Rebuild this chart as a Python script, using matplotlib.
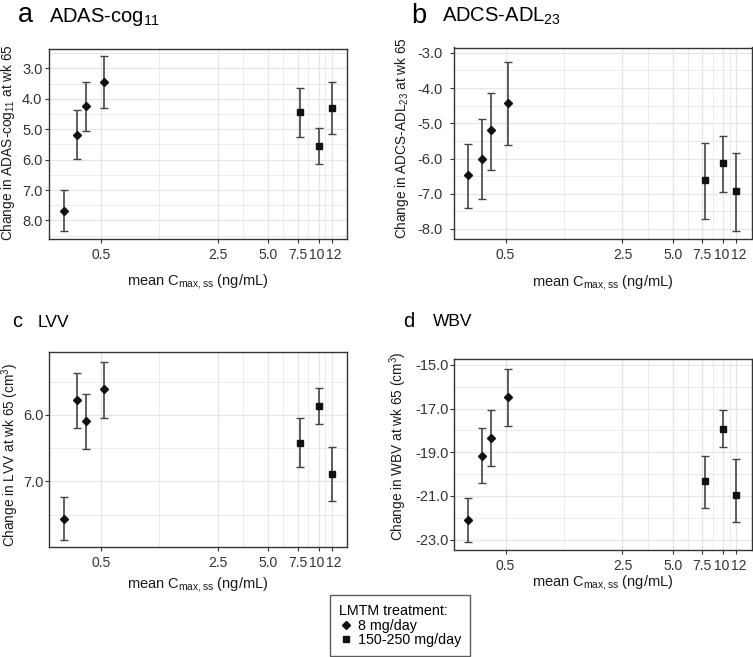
import numpy as np
import matplotlib
matplotlib.use("Agg")
import matplotlib.pyplot as plt
from matplotlib.ticker import FixedLocator, FixedFormatter, FormatStrFormatter, NullFormatter, MultipleLocator
from matplotlib.transforms import ScaledTranslation
from matplotlib.lines import Line2D

plt.rcParams['font.family'] = ['Liberation Sans', 'DejaVu Sans']
plt.rcParams['mathtext.fontset'] = 'custom'
plt.rcParams['mathtext.rm'] = 'Liberation Sans'
plt.rcParams['mathtext.it'] = 'Liberation Sans:italic'
plt.rcParams['mathtext.bf'] = 'Liberation Sans:bold'

# ---------------- data ----------------
x_low = [0.30, 0.36, 0.41, 0.52]     # 8 mg/day
x_high = [7.8, 10.0, 12.0]           # 150-250 mg/day
x_ticks = [0.5, 2.5, 5.0, 7.5, 10, 12]
x_ticklabels = ["0.5", "2.5", "5.0", "7.5", "10", "12"]

adas_low = [7.68, 5.20, 4.25, 3.46]
adas_low_lo = [7.00, 4.38, 3.44, 2.60]
adas_low_hi = [8.34, 5.99, 5.06, 4.30]
adas_high = [4.42, 5.54, 4.30]
adas_high_lo = [3.63, 4.97, 3.46]
adas_high_hi = [5.24, 6.13, 5.16]
adas_yticks = [3.0, 4.0, 5.0, 6.0, 7.0, 8.0]

adl_low = [-6.48, -6.01, -5.20, -4.43]
adl_low_lo = [-7.40, -7.15, -6.34, -5.63]
adl_low_hi = [-5.59, -4.87, -4.13, -3.27]
adl_high = [-6.61, -6.14, -6.92]
adl_high_lo = [-7.72, -6.94, -8.05]
adl_high_hi = [-5.57, -5.36, -5.83]
adl_yticks = [-3.0, -4.0, -5.0, -6.0, -7.0, -8.0]

lvv_low = [7.57, 5.78, 6.09, 5.61]
lvv_low_lo = [7.24, 5.37, 5.68, 5.20]
lvv_low_hi = [7.88, 6.19, 6.51, 6.04]
lvv_high = [6.42, 5.87, 6.89]
lvv_high_lo = [6.05, 5.59, 6.49]
lvv_high_hi = [6.79, 6.14, 7.29]
lvv_yticks = [6.0, 7.0]

wbv_low = [-22.12, -19.18, -18.34, -16.49]
wbv_low_lo = [-23.11, -20.41, -19.63, -17.82]
wbv_low_hi = [-21.11, -17.91, -17.07, -15.18]
wbv_high = [-20.33, -17.92, -20.95]
wbv_high_lo = [-21.56, -18.77, -22.18]
wbv_high_hi = [-19.15, -17.08, -19.29]
wbv_yticks = [-15.0, -17.0, -19.0, -21.0, -23.0]

legend_title = "LMTM treatment:"
legend_labels = ["8 mg/day", "150-250 mg/day"]

# ---------------- figure ----------------
W, H = 753, 657
fig = plt.figure(figsize=(W / 100, H / 100), dpi=100)

GRID = '#E6E6E6'
EBC = '#444444'
TXT = '#333333'


def px_axes(l, t, r, b):
    return fig.add_axes([l / W, 1 - b / H, (r - l) / W, (b - t) / H])


panels = [
    dict(pos=(49, 49.3, 347, 239.3), ylim=(8.62, 2.37), yt=adas_yticks, minor=0.5,
         low=(adas_low, adas_low_lo, adas_low_hi), high=(adas_high, adas_high_lo, adas_high_hi),
         ylabel=r'Change in ADAS-cog$\mathregular{_{11}}$ at wk 65', ylx=8.0, yly=142.5, xlc=-0.170, ypad=1.7,
         letter='a', title=r'ADAS-cog$\mathregular{_{11}}$', lx=18, tx=49, lb=21.7, tb=21.7, lfs=19.5, tfs=14.5),
    dict(pos=(453.7, 47.5, 751.7, 238.5), ylim=(-8.27, -2.85), yt=adl_yticks, minor=0.5,
         low=(adl_low, adl_low_lo, adl_low_hi), high=(adl_high, adl_high_lo, adl_high_hi),
         ylabel=r'Change in ADCS-ADL$\mathregular{_{23}}$ at wk 65', ylx=401.8, yly=138.0, xlc=-0.179, ypad=4.8,
         letter='b', title=r'ADCS-ADL$\mathregular{_{23}}$', lx=411, tx=442, lb=23.0, tb=21.7, lfs=19.5, tfs=14.5),
    dict(pos=(49, 352.3, 347, 547.3), ylim=(7.99, 5.06), yt=lvv_yticks, minor=0.5,
         low=(lvv_low, lvv_low_lo, lvv_low_hi), high=(lvv_high, lvv_high_lo, lvv_high_hi),
         ylabel=r'Change in LVV at wk 65 (cm$\mathregular{^3}$)', ylx=10.2, yly=455.0, xlc=-0.142, ypad=1.2,
         letter='c', title='LVV', lx=12, tx=38, lb=327.3, tb=327.3, lfs=14.5, tfs=12.5),
    dict(pos=(453.7, 359.3, 751.7, 550), ylim=(-23.47, -14.75), yt=wbv_yticks, minor=1.0,
         low=(wbv_low, wbv_low_lo, wbv_low_hi), high=(wbv_high, wbv_high_lo, wbv_high_hi),
         ylabel=r'Change in WBV at wk 65 (cm$\mathregular{^3}$)', ylx=398.5, yly=446.7, xlc=-0.122, ypad=0.7,
         letter='d', title='WBV', lx=403, tx=433, lb=326.7, tb=326.3, lfs=14.5, tfs=12.5),
]

x_minor = [np.sqrt(a * b) for a, b in zip(x_ticks[:-1], x_ticks[1:])]

for p in panels:
    ax = px_axes(*p['pos'])
    ax.set_xscale('log')
    ax.set_xlim(0.245, 14.8)
    ax.set_ylim(*p['ylim'])
    ax.xaxis.set_major_locator(FixedLocator(x_ticks))
    ax.xaxis.set_major_formatter(FixedFormatter(x_ticklabels))
    ax.xaxis.set_minor_locator(FixedLocator(x_minor))
    ax.xaxis.set_minor_formatter(NullFormatter())
    ax.yaxis.set_major_locator(FixedLocator(p['yt']))
    ax.yaxis.set_major_formatter(FormatStrFormatter('%.1f'))
    ax.yaxis.set_minor_locator(MultipleLocator(p['minor']))
    ax.grid(which='major', color=GRID, lw=0.9, zorder=0)
    ax.grid(which='minor', color=GRID, lw=0.55, zorder=0)
    ax.set_axisbelow(True)
    for s in ax.spines.values():
        s.set_color('#333333')
        s.set_linewidth(1.0)
    ax.tick_params(which='major', length=3, width=0.8, color='#333333', labelcolor=TXT)
    ax.tick_params(axis='x', which='major', pad=3.5, labelsize=10)
    ax.tick_params(axis='y', which='major', pad=p['ypad'], labelsize=10.5)
    ax.tick_params(which='minor', length=0)

    y, lo, hi = p['low']
    y = np.array(y); lo = np.array(lo); hi = np.array(hi)
    ax.errorbar(x_low, y, yerr=[y - lo, hi - y], fmt='none', ecolor=EBC, elinewidth=1.2,
                capsize=3.2, capthick=1.0, zorder=3)
    ax.plot(x_low, y, linestyle='none', marker='D', markersize=4.0, color='#111111', zorder=4)
    y, lo, hi = p['high']
    y = np.array(y); lo = np.array(lo); hi = np.array(hi)
    ax.errorbar(x_high, y, yerr=[y - lo, hi - y], fmt='none', ecolor=EBC, elinewidth=1.2,
                capsize=3.2, capthick=1.0, zorder=3)
    ax.plot(x_high, y, linestyle='none', marker='s', markersize=4.2, color='#111111', zorder=4)

    fig.text(p['ylx'] / W, 1 - p['yly'] / H, p['ylabel'], fontsize=9.8, color='#1a1a1a',
             rotation=90, ha='center', va='center')
    ax.set_xlabel(r'mean C$\mathregular{_{max,ss}}$ (ng/mL)', fontsize=10.5, color='#1a1a1a')
    ax.xaxis.set_label_coords(0.5, p['xlc'])

    # nudge the two crowded labels "10" and "12" slightly apart
    for t in ax.get_xticklabels():
        if t.get_text() == '10':
            t.set_transform(t.get_transform() + ScaledTranslation(-1.8 / 100, 0, fig.dpi_scale_trans))
        elif t.get_text() == '12':
            t.set_transform(t.get_transform() + ScaledTranslation(1.8 / 100, 0, fig.dpi_scale_trans))

    fig.text(p['lx'] / W, 1 - p['lb'] / H, p['letter'], fontsize=p['lfs'], va='baseline', ha='left')
    fig.text(p['tx'] / W, 1 - p['tb'] / H, p['title'], fontsize=p['tfs'], va='baseline', ha='left')

handles = [Line2D([], [], linestyle='none', marker='D', markersize=4.0, color='#111111'),
           Line2D([], [], linestyle='none', marker='s', markersize=4.0, color='#111111')]
leg = fig.legend(handles, legend_labels, title=legend_title, loc='lower center',
                 bbox_to_anchor=(400 / W, 1 / H), fontsize=10.3, title_fontsize=10.3,
                 alignment='left', frameon=True, fancybox=False, handlelength=0.9,
                 handletextpad=0.4, labelspacing=0.05, borderpad=0.6, borderaxespad=0)
leg.get_frame().set_edgecolor('#333333')
leg.get_frame().set_linewidth(1.0)

fig.savefig('out.png', dpi=100)
